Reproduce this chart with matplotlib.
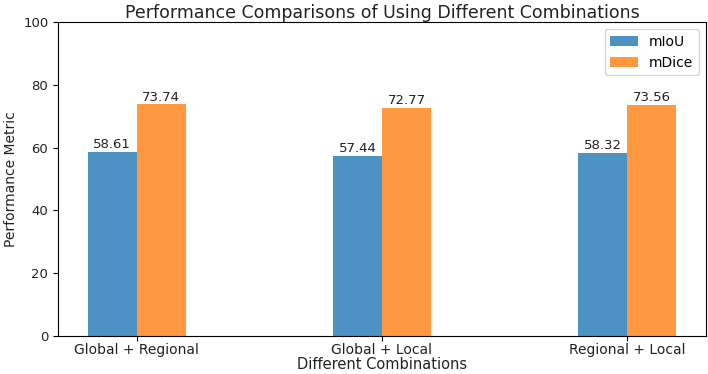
import numpy as np
import matplotlib.pyplot as plt

# Datos
combinations = ['Global + Regional', 'Global + Local', 'Regional + Local']
miou = [58.61, 57.44, 58.32]
mdice = [73.74, 72.77, 73.56]

x = np.arange(len(combinations))
width = 0.2

fig = plt.figure(figsize=(7.08, 3.74), dpi=100)
ax = fig.add_axes([0.082, 0.102, 0.915, 0.839])

bars1 = ax.bar(x - width/2, miou, width, label='mIoU', color='tab:blue', alpha=0.8)
bars2 = ax.bar(x + width/2, mdice, width, label='mDice', color='tab:orange', alpha=0.8)

for bars in (bars1, bars2):
    for b in bars:
        h = b.get_height()
        ax.annotate(f'{h:.2f}', xy=(b.get_x() + b.get_width()/2, h),
                    xytext=(0, 0.5), textcoords='offset points',
                    ha='center', va='bottom', fontsize=9.5, color='#222222')

ax.set_ylim(0, 100)
ax.set_xticks(x)
ax.set_xticklabels(combinations, fontsize=10, color='#222222')
ax.tick_params(axis='x', pad=2)
ax.tick_params(axis='y', labelsize=9.5, labelcolor='#222222')
ax.set_xlabel('Different Combinations', fontsize=10.5, labelpad=0, color='#222222')
ax.set_ylabel('Performance Metric', fontsize=10, labelpad=4, color='#222222')
ax.set_title('Performance Comparisons of Using Different Combinations',
             fontsize=12.5, pad=3, color='#222222')
ax.legend(loc='upper right', fontsize=10)

fig.savefig('out.png', dpi=100)
